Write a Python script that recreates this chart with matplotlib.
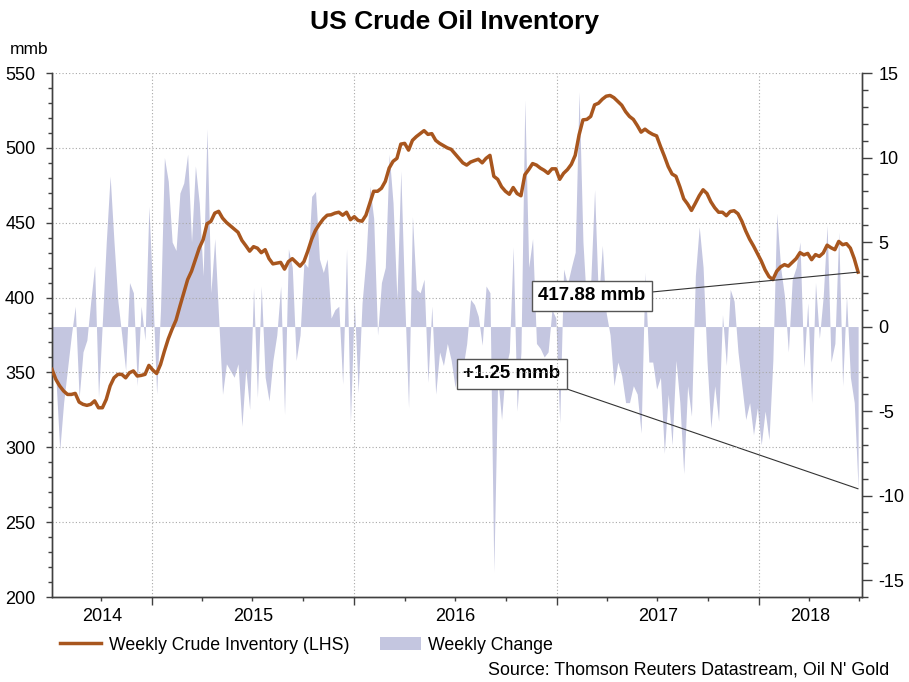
import numpy as np
import pandas as pd
import matplotlib
matplotlib.use("Agg")
import matplotlib.pyplot as plt
import matplotlib.dates as mdates
from matplotlib.patches import Patch
from matplotlib.lines import Line2D

plt.rcParams['font.family'] = ['Liberation Sans', 'DejaVu Sans']
plt.rcParams['axes.unicode_minus'] = False

# Weekly data (Jul 2014 - Jun 2018)
START_DATE = "2014-07-04"
END_VIEW = "2018-07-06"

inventory = [
    352, 345.3, 340.9, 337.6, 335.3, 335.3, 336, 330.2, 328.7, 328, 328.7, 331, 326.4, 326.4,
    332, 341, 346.4, 348.7, 348.7, 346.4, 349.8, 351, 347.6, 348, 348.7, 354.7, 351.6, 349.3,
    355.3, 364.2, 372.4, 379, 384.9, 394.2, 403.1, 412, 417.6, 425.3, 433.1, 438.7, 449.3, 450.9,
    456.4, 457.6, 453.1, 450.2, 448, 445.8, 443.6, 438.2, 434.7,
    431, 434, 433, 430, 432, 426, 422.5, 423, 423.5, 419, 424, 426, 423.5, 421, 424, 431, 439,
    445, 449, 452.5, 455, 455.3, 456.4, 457, 455, 457, 452, 454, 451.5, 451, 455, 463, 471, 471,
    473, 477.6, 486.5, 491, 493, 502.5, 503, 498.5, 505, 507.5, 509.5, 511.5, 509, 509.5, 505,
    503, 501.5, 500,
    499, 496, 493, 490, 488.5, 490.5, 491.5, 492.4, 490, 493, 495, 481, 479, 474, 471, 469,
    473.5, 469.5, 468, 482, 485.5, 489.5, 488.5, 486.5, 485, 483, 486, 486, 479, 483, 485.5, 489,
    495, 508.7, 518.7, 519, 521, 528.7, 529.8, 532.5, 534.5, 535, 533.5, 531, 528.5, 524.2, 521,
    519, 515, 510.5, 512.5, 510.5,
    509, 508, 501, 494.5, 487.5, 482.5, 481, 474, 466, 462.5, 458.2, 463, 468, 472, 469.5, 464,
    460, 457, 457, 454.7, 457.5, 458, 456, 451, 444.5, 439, 434.5, 429.5, 424.5, 418.5, 414, 412,
    417.6, 420.5, 422, 421, 423.5, 426, 430, 428.5, 429.5, 425.3, 428.7, 427.5, 429.8, 435, 433.3,
    432, 437.5, 435.3, 436, 433, 426, 417,
]

weekly_change = [
    -2.5, -3, -7.3, -4.5, -2.5, -0.5, 1.2, -4.2, -1.5, -0.8, 1.5, 3.6, -4.2, 0.3, 5, 8.9, 5, 1.5,
    -0.5, -2.6, 2.6, 2, -3.5, 1.2, -0.8, 7.1, 2, -4, 1, 10, 8.6, 5, 4.5, 7.9, 8.5, 10.2, 5, 9.5,
    7.3, 3, 11.7, 2, 5.2, 0.5, -4, -2.2, -2.6, -3, -2.2, -5.9, -2.5, -4.9, 2.3,
    -4.2, 2.4, -3, -4.4, -2, -0.5, 2.4, -5.2, 4.6, 3.5, -2, -0.5, 3.8, 3.5, 7.7, 8, 4, 3.2, 4,
    0.5, 1, 1.2, -3.4, 4.6, -5.7, 1.5, -3.9, 1.4, 4, 8.3, 6.4, -0.5, 2.6, 3.5, 10.2, 7.3, 1.6,
    9.2, 1.6, -4.8, 6.5, 2.2, 2, 2.8, -3.3, 1.2, -4, -1.5, -2.3, -1, -2, -3.6,
    -2, -2.5, -1, 1.6, 1.3, 0.6, -1.1, 2.4, 2, -14.5, -3, -5.5, -2.5, -1.5, 4.7, -5, -1.5, 13.4,
    3.5, 5.2, -1, -1.3, -1.8, -1.5, 1, 0.5, -5.7, 3.4, 2.5, 3.5, 4.4, 13.9, 5, 1, 2.6, 8.1, 1.5,
    4.8, 0.8, -0.5, -3.5, -2.1, -2.9, -4.5, -4.5, -3.5, -4, -6.3, 3.2, -2.1,
    -2.1, -3.7, -3, -7.5, -4, -7, -2, -4.5, -8.7, -3.5, -5.3, 3, 5.9, 3.5, -2, -6, -3.5, -5.6,
    0.7, -2.3, 2.2, 1.5, -1.5, -3.5, -5.5, -4.5, -6.4, -4.8, -7, -5, -6.7, -2, 6.7, 3.5, 1.8,
    -1.5, 2.8, 3.5, 5, -2.4, 1.4, -4.5, 2.6, -0.7, 1.8, 6, -2.1, -1, 5.6, -3.5, 1.8, -3, -4.5,
    -9.6,
]

LINE_COLOR = "#a8561e"
AREA_COLOR = "#c4c6e0"
GRID_COLOR = "#a8a8a8"
SPINE_COLOR = "#404040"

dates = pd.date_range(START_DATE, periods=len(inventory), freq="7D")

fig = plt.figure(figsize=(9.09, 6.82), dpi=100)
ax = fig.add_axes([52 / 909, 85 / 682, 810 / 909, 524 / 682])
ax2 = ax.twinx()

# area of weekly change (right axis), drawn under the inventory line
ax2.fill_between(dates, 0, weekly_change, color=AREA_COLOR, linewidth=0, zorder=1)
ax.plot(dates, inventory, color=LINE_COLOR, linewidth=2.5, zorder=3, solid_joinstyle="round")

ax.set_zorder(ax2.get_zorder() + 1)
ax.patch.set_visible(False)

x0, x1 = pd.Timestamp(START_DATE), pd.Timestamp(END_VIEW)
ax.set_xlim(x0, x1)
ax.set_ylim(200, 550)
ax2.set_ylim(-16, 15)

ax.set_yticks(np.arange(200, 551, 50))
ax.set_yticks(np.arange(200, 551, 10), minor=True)
ax2.set_yticks(np.arange(-15, 16, 5))
ax2.set_yticks(np.arange(-16, 16, 1), minor=True)

ax.xaxis.set_major_locator(mdates.YearLocator())
ax.xaxis.set_minor_locator(mdates.MonthLocator(bymonth=[1, 4, 7, 10]))
ax.xaxis.set_major_formatter(plt.NullFormatter())

ax.grid(True, which="major", axis="both", color=GRID_COLOR, linestyle=(0, (1, 2)), linewidth=0.8)

for a in (ax, ax2):
    a.spines["top"].set_visible(False)
    for s in ("left", "right", "bottom"):
        a.spines[s].set_color(SPINE_COLOR)
        a.spines[s].set_linewidth(1.0)

ax.tick_params(axis="y", which="major", length=4, width=1, color=SPINE_COLOR, labelsize=13, pad=8)
ax.tick_params(axis="y", which="minor", length=3, width=1, color=SPINE_COLOR)
ax2.tick_params(axis="y", which="major", length=7, width=1, color=SPINE_COLOR, labelsize=13, pad=5)
ax2.tick_params(axis="y", which="minor", length=4, width=1, color=SPINE_COLOR)
ax.tick_params(axis="x", which="major", length=6, width=1, color=SPINE_COLOR)
ax.tick_params(axis="x", which="minor", length=3, width=1, color=SPINE_COLOR)

# year labels centred on the visible part of each year
for yr in range(x0.year, x1.year + 1):
    a = max(pd.Timestamp(f"{yr}-01-01"), x0)
    b = min(pd.Timestamp(f"{yr + 1}-01-01"), x1)
    mid = a + (b - a) / 2
    ax.text(mdates.date2num(mid), -0.038, str(yr), transform=ax.get_xaxis_transform(),
            ha="center", va="center", fontsize=13)

fig.text(0.5, 1 - 22 / 682, "US Crude Oil Inventory", ha="center", va="center",
         fontsize=19, fontweight="bold")
fig.text(10 / 909, 1 - 50 / 682, "mmb", ha="left", va="center", fontsize=12.5)
fig.text(889 / 909, 1 - 670 / 682, "Source: Thomson Reuters Datastream, Oil N' Gold",
         ha="right", va="center", fontsize=12.9)

# callouts
box = dict(boxstyle="square,pad=0.35", facecolor="white", edgecolor="#555555", linewidth=1)
ax.annotate("417.88 mmb", xy=(dates[-1], inventory[-1]), xycoords="data",
            xytext=(592, 682 - 296), textcoords="figure pixels",
            ha="center", va="center", fontsize=13.5, fontweight="bold", bbox=box,
            arrowprops=dict(arrowstyle="-", color="#333333", linewidth=0.8,
                            relpos=(1.0, 0.7), shrinkA=0, shrinkB=0))
ax2.annotate("+1.25 mmb", xy=(dates[-1], weekly_change[-1]), xycoords="data",
             xytext=(512, 682 - 374), textcoords="figure pixels",
             ha="center", va="center", fontsize=13.5, fontweight="bold", bbox=box,
             arrowprops=dict(arrowstyle="-", color="#333333", linewidth=0.8,
                             relpos=(0.87, 0.0), shrinkA=0, shrinkB=0))

handles = [Line2D([], [], color=LINE_COLOR, linewidth=2.5),
           Patch(facecolor=AREA_COLOR, edgecolor="none")]
fig.legend(handles, ["Weekly Crude Inventory (LHS)", "Weekly Change"],
           loc="center left", bbox_to_anchor=(60 / 909, 1 - 645 / 682), ncol=2,
           frameon=False, fontsize=12.8, handlelength=2.3, handletextpad=0.45,
           columnspacing=1.7, borderpad=0, borderaxespad=0)

fig.savefig("out.png", dpi=100)
